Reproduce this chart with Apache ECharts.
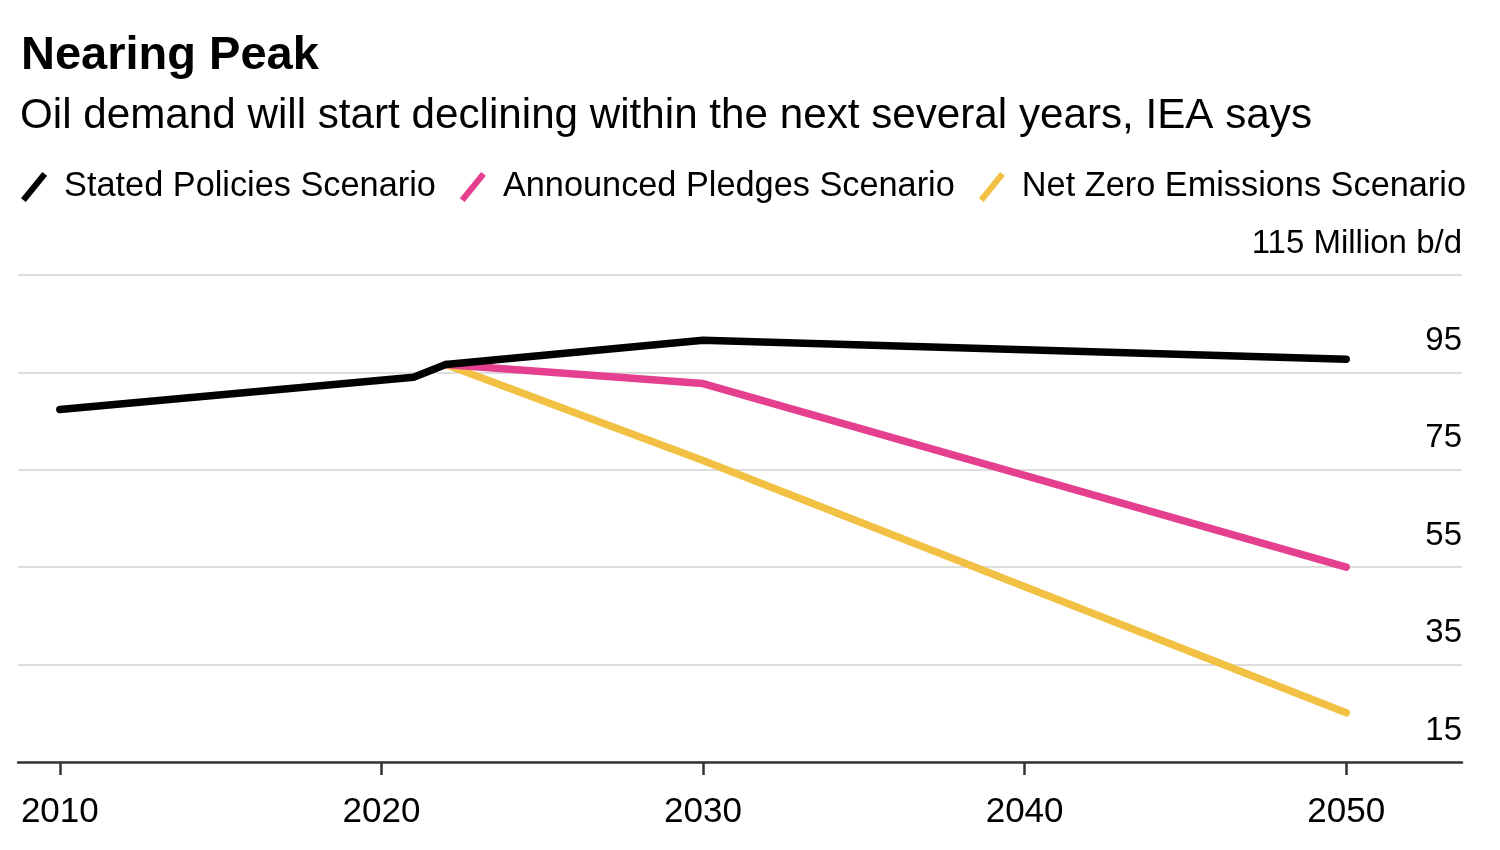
<!DOCTYPE html>
<html>
<head>
<meta charset="utf-8">
<script src="https://cdn.jsdelivr.net/npm/echarts@6/dist/echarts.min.js"></script>
<style>html,body{margin:0;padding:0;background:#fff}#c{width:1500px;height:850px}</style>
</head>
<body>
<div id="c"></div>
<script>
const seriesNames = ['Stated Policies Scenario', 'Announced Pledges Scenario', 'Net Zero Emissions Scenario'];
const statedYears = [2010, 2021, 2022, 2030, 2050];
const statedValues = [87.4, 94.0, 96.6, 101.6, 97.7];
const pledgesYears = [2022, 2030, 2050];
const pledgesValues = [96.6, 92.7, 55.0];
const netZeroYears = [2022, 2030, 2050];
const netZeroValues = [96.6, 76.9, 25.1];
const xTickValues = [2010, 2020, 2030, 2040, 2050];
const yTickValues = [15, 35, 55, 75, 95, 115];
const yUnit = 'Million b/d';

const FONT = '"Liberation Sans", Arial, Helvetica, sans-serif';
const colors = ['#000000', '#E4408F', '#F2C144'];
const slash = 'path://M0,27 L22,0 L27,4 L5,31 Z';

function pairs(xs, ys) { return xs.map((x, i) => [x, ys[i]]); }

const chart = echarts.init(document.getElementById('c'), null, {renderer: 'canvas'});
chart.setOption({
  backgroundColor: '#ffffff',
  animation: false,
  title: [
    {text: 'Nearing Peak', left: 16, top: 28,
     textStyle: {fontFamily: FONT, fontSize: 47, fontWeight: 'bold', color: '#000'}},
    {text: 'Oil demand will start declining within the next several years, IEA says', left: 15, top: 90,
     textStyle: {fontFamily: FONT, fontSize: 42.2, fontWeight: 'normal', color: '#000'}}
  ],
  legend: {
    left: 16, top: 165, itemWidth: 28, itemHeight: 30, itemGap: 24,
    icon: slash,
    data: seriesNames,
    textStyle: {fontFamily: FONT, fontSize: 34.3, color: '#000', padding: [0, 0, 0, 11]}
  },
  grid: {left: 18, right: 38, top: 275, bottom: 88},
  xAxis: {
    type: 'value', min: 2008.7, max: 2053.6,
    axisLine: {show: true, lineStyle: {color: '#333', width: 2.5}},
    axisTick: {show: true, length: 13, customValues: xTickValues, lineStyle: {color: '#333', width: 2.5}},
    axisLabel: {customValues: xTickValues, margin: 33, fontFamily: FONT, fontSize: 35, color: '#000', formatter: v => String(v)},
    splitLine: {show: false}
  },
  yAxis: {
    type: 'value', position: 'right', min: 15, max: 115,
    axisLine: {show: false},
    axisTick: {show: false, customValues: yTickValues},
    splitLine: {show: true, lineStyle: {color: '#dddddd', width: 2}},
    axisLabel: {
      customValues: yTickValues, inside: true, margin: 0,
      verticalAlign: 'bottom', padding: [0, 0, 15, 0],
      fontFamily: FONT, fontSize: 33, color: '#000',
      formatter: v => v === 115 ? v + ' ' + yUnit : String(v)
    }
  },
  series: [
    {name: seriesNames[1], type: 'line', data: pairs(pledgesYears, pledgesValues), symbol: 'none', z: 2,
     lineStyle: {color: colors[1], width: 7.5, cap: 'round', join: 'round'}, itemStyle: {color: colors[1]}},
    {name: seriesNames[2], type: 'line', data: pairs(netZeroYears, netZeroValues), symbol: 'none', z: 1,
     lineStyle: {color: colors[2], width: 7.5, cap: 'round', join: 'round'}, itemStyle: {color: colors[2]}},
    {name: seriesNames[0], type: 'line', data: pairs(statedYears, statedValues), symbol: 'none', z: 3,
     lineStyle: {color: colors[0], width: 7.5, cap: 'round', join: 'round'}, itemStyle: {color: colors[0]}}
  ]
});
</script>
</body>
</html>
